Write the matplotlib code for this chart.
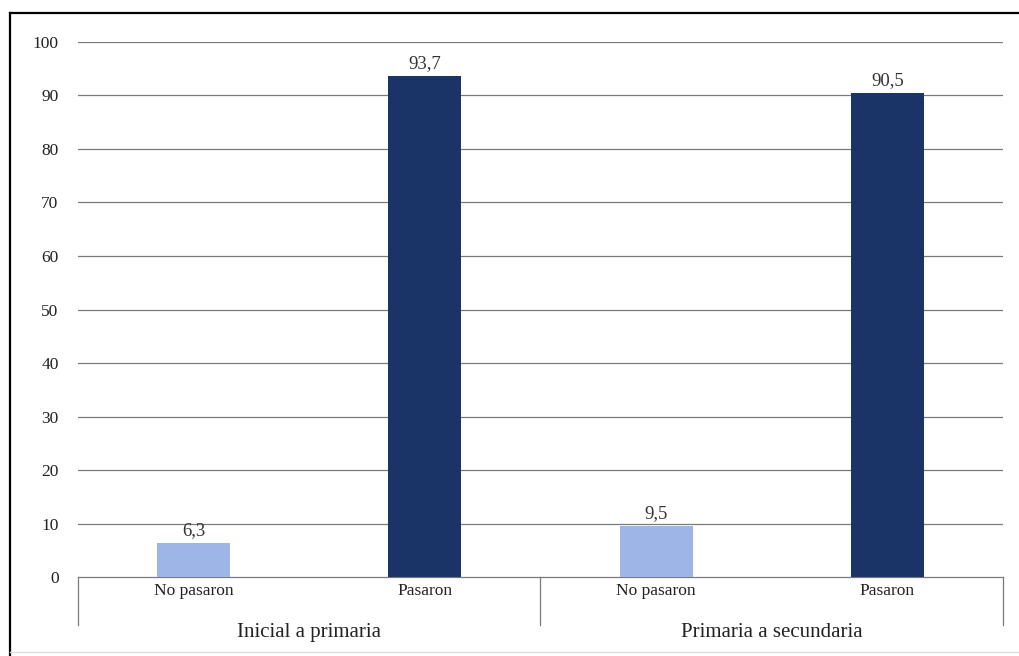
import matplotlib
matplotlib.use('Agg')
import matplotlib.pyplot as plt
from matplotlib.lines import Line2D

# data
categories = ['No pasaron', 'Pasaron', 'No pasaron', 'Pasaron']
groups = ['Inicial a primaria', 'Primaria a secundaria']
values = [6.3, 93.7, 9.5, 90.5]
value_labels = ['6,3', '93,7', '9,5', '90,5']
yticks = [0, 10, 20, 30, 40, 50, 60, 70, 80, 90, 100]

LIGHT = '#9db5e7'
DARK = '#1b3468'
bar_colors = [LIGHT, DARK, LIGHT, DARK]

plt.rcParams['font.family'] = ['Liberation Serif', 'DejaVu Serif']

fig = plt.figure(figsize=(10.19, 6.56), dpi=100, facecolor='white')
ax = fig.add_axes([0.0765, 0.1204, 0.9078, 0.8156])

x = list(range(len(values)))
ax.bar(x, values, width=0.316, color=bar_colors, zorder=3)

for xi, v, lab in zip(x, values, value_labels):
    ax.text(xi, v + 0.7, lab, ha='center', va='bottom', fontsize=13.5,
            color='#333333', zorder=4)

ax.set_xlim(-0.5, 3.5)
ax.set_ylim(0, 100)
ax.set_yticks(yticks)
ax.set_yticklabels([str(t) for t in yticks], fontsize=12.5, color='#222222')
ax.set_xticks(x)
ax.set_xticklabels(categories, fontsize=12.5, color='#222222')
ax.tick_params(axis='both', length=0)
ax.tick_params(axis='y', pad=14)
ax.tick_params(axis='x', pad=4)

for t in yticks[1:]:
    ax.axhline(t, color='#7a7a7a', lw=0.9, zorder=1)

for s in ['top', 'right', 'left']:
    ax.spines[s].set_visible(False)
ax.spines['bottom'].set_color('#7a7a7a')
ax.spines['bottom'].set_linewidth(0.9)

# group separators and labels below the axis
tr = ax.get_xaxis_transform()
for xs in [-0.5, 1.5, 3.5]:
    ax.plot([xs, xs], [0, -0.09], transform=tr, color='#7a7a7a', lw=0.9,
            clip_on=False)
for gi, g in enumerate(groups):
    ax.text(gi * 2 + 0.5, -0.103, g, transform=tr, ha='center', va='center',
            fontsize=15, color='#222222')

# outer frame
fig.add_artist(Line2D([10 / 1019, 10 / 1019], [1 - 13 / 656, 0.0],
                      transform=fig.transFigure, color='black', lw=1.6))
fig.add_artist(Line2D([10 / 1019, 1.0], [1 - 13 / 656, 1 - 13 / 656],
                      transform=fig.transFigure, color='black', lw=1.6))
fig.add_artist(Line2D([10 / 1019, 1.0], [4 / 656, 4 / 656],
                      transform=fig.transFigure, color='#dddddd', lw=1.0))

fig.savefig('out.png', dpi=100, facecolor='white')
